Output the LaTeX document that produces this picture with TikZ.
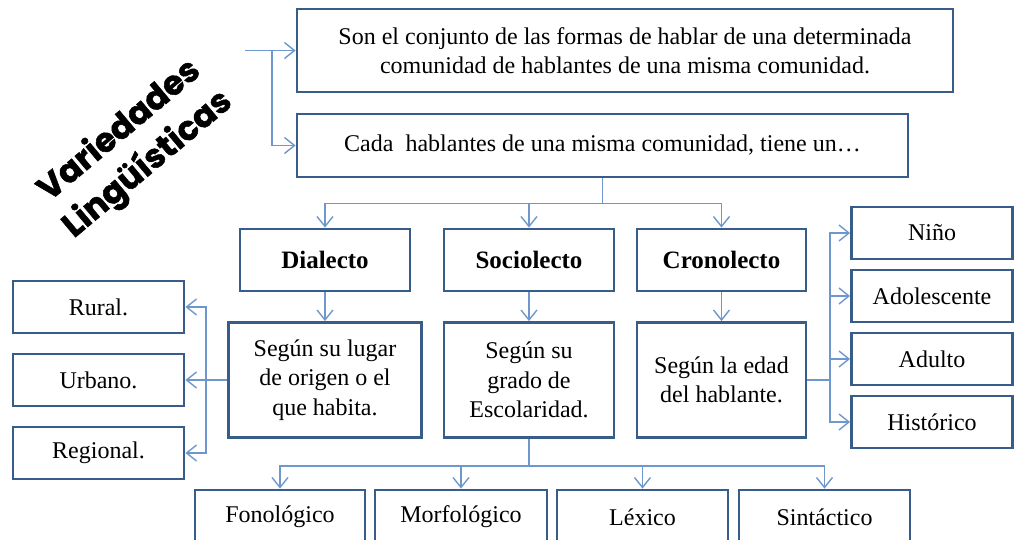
\documentclass[tikz,border=0pt]{standalone}
\usepackage{fontspec}
\setmainfont{Liberation Serif}
\newfontfamily\titulo{Poppins}[BoldFeatures={FakeBold=1.5}]
\usetikzlibrary{arrows.meta}
\definecolor{marco}{RGB}{56,93,138}
\definecolor{enlace}{RGB}{110,152,205}

\begin{document}
\begin{tikzpicture}[x=1pt,y=-1pt,
  caja/.style={draw=marco,line width=2.8pt,fill=white,align=center,inner sep=0pt,font=\fontsize{24}{29.5}\selectfont},
  tema/.style={caja,font=\fontsize{25}{30}\selectfont\bfseries},
  linea/.style={draw=enlace,line width=1.4pt},
  flecha/.style={linea,-{Straight Barb[length=10pt,width=16pt]}}]
\useasboundingbox (0,0) rectangle (1015,540);
\clip (0,0) rectangle (1015,540);

\node[rotate=40,align=center,font=\titulo\fontsize{33.5}{44}\selectfont\bfseries] (titulo) at (134,148) {Variedades\\Lingüísticas};

% cajas de arriba
\node[caja,minimum width=656pt,minimum height=83pt] (def) at (625,50.5) {Son el conjunto de las formas de hablar de una determinada\\comunidad de hablantes de una misma comunidad.};
\node[caja,minimum width=611pt,minimum height=63pt] (cada) at (602.5,145.5) {Cada~ hablantes de una misma comunidad, tiene un…};

\node[tema,minimum width=170pt,minimum height=62pt] (dia) at (325,260) {Dialecto};
\node[tema,minimum width=170pt,minimum height=62pt] (socio) at (529,260) {Sociolecto};
\node[tema,minimum width=169pt,minimum height=62pt] (crono) at (721.5,260) {Cronolecto};

\node[caja,minimum width=193pt,minimum height=115pt] (lugar) at (325,380) {Según su lugar\\de origen o el\\que habita.};
\node[caja,minimum width=170pt,minimum height=115pt] (grado) at (529,380) {Según su\\grado de\\Escolaridad.};
\node[caja,minimum width=169pt,minimum height=115pt] (edad) at (721.5,380) {Según la edad\\del hablante.};

% izquierda
\node[caja,minimum width=171pt,minimum height=52pt] (rural) at (98.5,307) {Rural.};
\node[caja,minimum width=171pt,minimum height=52pt] (urbano) at (98.5,380) {Urbano.};
\node[caja,minimum width=171pt,minimum height=52pt] (regional) at (98.5,453) {Regional.};

% derecha
\node[caja,minimum width=161pt,minimum height=52pt] (nino) at (932,233) {Niño};
\node[caja,minimum width=161pt,minimum height=52pt] (adolescente) at (932,296) {Adolescente};
\node[caja,minimum width=161pt,minimum height=52pt] (adulto) at (932,359) {Adulto};
\node[caja,minimum width=161pt,minimum height=52pt] (historico) at (932,422) {Histórico};

% abajo
\node[caja,minimum width=170pt,minimum height=54pt] (fono) at (280,517) {Fonológico};
\node[caja,minimum width=172pt,minimum height=54pt] (morfo) at (461,517) {Morfológico};
\node[caja,minimum width=171pt,minimum height=54pt] (lexico) at (642.5,517) {Léxico};
\node[caja,minimum width=171pt,minimum height=54pt] (sintactico) at (824.5,517) {Sintáctico};

% flechas
\coordinate (origen) at (245,50.5);
\coordinate (r1) at (272,50.5);
\draw[flecha] (origen) -- (def.west);
\draw[flecha] (r1) |- (cada.west);

\draw[linea] (cada.south) -- ++(0,25) coordinate (r2);
\draw[flecha] (r2) -| (dia.north);
\draw[flecha] (r2) -| (socio.north);
\draw[flecha] (r2) -| (crono.north);

\draw[flecha] (dia.south) -- (lugar.north);
\draw[flecha] (socio.south) -- (grado.north);
\draw[flecha] (crono.south) -- (edad.north);

\coordinate (r3) at (206,380);
\draw[flecha] (lugar.west) -- (urbano.east);
\draw[flecha] (r3) |- (rural.east);
\draw[flecha] (r3) |- (regional.east);

\coordinate (r4) at (830,380);
\draw[linea] (edad.east) -- (r4);
\draw[flecha] (r4) |- (nino.west);
\draw[flecha] (r4) |- (adolescente.west);
\draw[flecha] (r4) |- (adulto.west);
\draw[flecha] (r4) |- (historico.west);

\draw[linea] (grado.south) -- ++(0,27) coordinate (r5);
\draw[flecha] (r5) -| (fono.north);
\draw[flecha] (r5) -| (morfo.north);
\draw[flecha] (r5) -| (lexico.north);
\draw[flecha] (r5) -| (sintactico.north);
\end{tikzpicture}
\end{document}
